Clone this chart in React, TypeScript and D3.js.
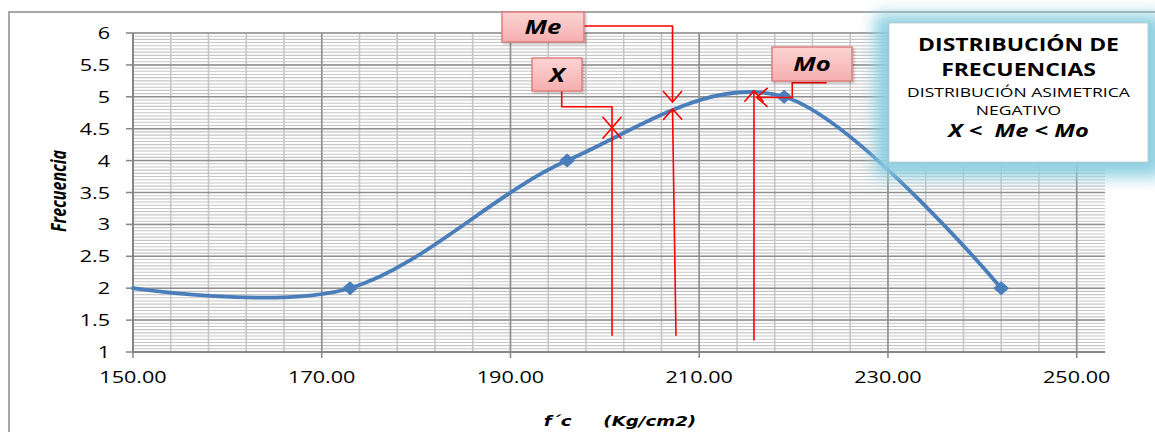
import React from "react";
import * as d3 from "d3";

// ---- data ----
const fcValues = [150, 173, 196, 219, 242];
const frequencies = [2, 2, 4, 5, 2];
const xTicks = [150, 170, 190, 210, 230, 250];
const yTicks = [1, 1.5, 2, 2.5, 3, 3.5, 4, 4.5, 5, 5.5, 6];
const legendLines = [
  "DISTRIBUCIÓN DE",
  "FRECUENCIAS",
  "DISTRIBUCIÓN ASIMETRICA",
  "NEGATIVO",
  "X <  Me < Mo",
];
const statLabels = ["X", "Me", "Mo"];
const statValues = [200.76, 207.17, 215.8];
// label boxes in data units: [x0, x1, yTop, yBottom]
const statBoxes = [
  [192.28, 197.58, 5.608, 5.091],
  [189.1, 197.79, 6.329, 5.859],
  [217.71, 226.19, 5.78, 5.248],
];
// connector from box to curve (data units, polyline ending at arrow tip)
const statTopPaths: number[][][] = [
  [[195.43, 5.237], [195.43, 4.845], [statValues[0], 4.845], [statValues[0], 4.516]],
  [[197.79, 6.11], [statValues[1], 6.11], [statValues[1], 4.92]],
  [[223.51, 5.221], [219.86, 5.221], [219.86, 4.99], [216.09, 4.99]],
];
// vertical line from below to curve
const statBottomPaths: number[][][] = [
  [[statValues[0], 1.255], [statValues[0], 4.516]],
  [[207.54, 1.255], [statValues[1], 4.81]],
  [[statValues[2], 1.18], [statValues[2], 5.096]],
];

// ---- layout ----
const W = 1155;
const H = 432;
const SX = 1.35;
const FONT = "'Open Sans', 'DejaVu Sans', sans-serif";

const x = d3.scaleLinear().domain([150, 253.0]).range([133, 1105]);
const y = d3.scaleLinear().domain([1, 6]).range([352, 33]);

function T(props: {
  x: number;
  y: number;
  size: number;
  anchor?: string;
  weight?: string;
  italic?: boolean;
  fill?: string;
  rotate?: number;
  font?: string;
  children: React.ReactNode;
}) {
  const rot = props.rotate ? ` rotate(${props.rotate})` : "";
  return (
    <text
      transform={`translate(${props.x},${props.y}) scale(${SX},1)${rot}`}
      fontSize={props.size}
      fontFamily={props.font || FONT}
      fontWeight={props.weight || "normal"}
      fontStyle={props.italic ? "italic" : "normal"}
      textAnchor={props.anchor || "middle"}
      fill={props.fill || "#000"}
      style={{ whiteSpace: "pre" }}
    >
      {props.children}
    </text>
  );
}

function arrowHead(px: number[][], key: string) {
  const n = px.length;
  const [tx, ty] = px[n - 1];
  const [fx, fy] = px[n - 2];
  const dx = tx - fx;
  const dy = ty - fy;
  const len = Math.hypot(dx, dy) || 1;
  const ux = dx / len;
  const uy = dy / len;
  const L = 11;
  const Wd = 9.5;
  const bx = tx - ux * L;
  const by = ty - uy * L;
  const d = `M${bx - uy * Wd},${by + ux * Wd}L${tx},${ty}L${bx + uy * Wd},${by - ux * Wd}`;
  return <path key={key} d={d} fill="none" stroke="#ff0000" strokeWidth={1.6} />;
}

export default function App() {
  const pts = fcValues.map((v, i) => [v, frequencies[i]] as [number, number]);
  const line = d3
    .line<[number, number]>()
    .x((d) => x(d[0]))
    .y((d) => y(d[1]))
    .curve(d3.curveCardinal.tension(0));

  const minorY = d3.range(0, 101).map((i) => 1 + i * 0.05);
  const minorX = d3.range(0, 26).map((i) => 150 + i * 4);

  const [x0, x1] = x.range();
  const [yb, yt] = y.range();

  const lg = { x0: 889, x1: 1148, y0: 23, y1: 162 };
  const lgc = (lg.x0 + lg.x1) / 2;

  return (
    <svg
      width={W}
      height={H}
      style={{ position: "absolute", left: 0, top: 0, background: "#fff" }}
    >
      <defs>
        <filter id="glow" x="-30%" y="-40%" width="160%" height="180%">
          <feGaussianBlur stdDeviation="8" />
        </filter>
        <linearGradient id="pink" x1="0" y1="0" x2="0" y2="1">
          <stop offset="0" stopColor="#fbd3d3" />
          <stop offset="0.5" stopColor="#f9c2c2" />
          <stop offset="1" stopColor="#f5aeae" />
        </linearGradient>
        <filter id="shadow" x="-20%" y="-20%" width="150%" height="160%">
          <feDropShadow dx="1.5" dy="1.5" stdDeviation="1.2" floodColor="#000" floodOpacity="0.25" />
        </filter>
      </defs>

      {/* chart border */}
      <rect x={9} y={12} width={1200} height={500} fill="none" stroke="#8c8c8c" strokeWidth={1.5} />

      {/* minor grid */}
      {minorY.map((v, i) => (
        <line key={"my" + i} x1={x0} x2={x1} y1={y(v)} y2={y(v)} stroke="#c6c6c6" strokeWidth={1.1} />
      ))}
      {minorX.map((v, i) => (
        <line key={"mx" + i} x1={x(v)} x2={x(v)} y1={yb} y2={yt} stroke="#c6c6c6" strokeWidth={1.6} />
      ))}
      {/* major grid */}
      {yTicks.map((v, i) => (
        <line key={"gy" + i} x1={x0} x2={x1} y1={y(v)} y2={y(v)} stroke="#8e8e8e" strokeWidth={1.5} />
      ))}
      {xTicks.map((v, i) => (
        <line key={"gx" + i} x1={x(v)} x2={x(v)} y1={yb} y2={yt} stroke="#8e8e8e" strokeWidth={1.5} />
      ))}

      {/* axes */}
      <line x1={x0} x2={x0} y1={yb} y2={yt} stroke="#868686" strokeWidth={2} />
      <line x1={x0} x2={x1} y1={yb} y2={yb} stroke="#868686" strokeWidth={2} />
      {yTicks.map((v, i) => (
        <line key={"ty" + i} x1={126} x2={x0} y1={y(v)} y2={y(v)} stroke="#868686" strokeWidth={1.5} />
      ))}
      {xTicks.map((v, i) => (
        <line key={"tx" + i} x1={x(v)} x2={x(v)} y1={yb} y2={yb + 6} stroke="#868686" strokeWidth={1.5} />
      ))}

      {/* tick labels */}
      {yTicks.map((v, i) => (
        <T key={"ly" + i} x={110} y={y(v) + 6} size={16} anchor="end">
          {String(v)}
        </T>
      ))}
      {xTicks.map((v, i) => (
        <T key={"lx" + i} x={x(v)} y={383} size={16}>
          {v.toFixed(2)}
        </T>
      ))}

      {/* axis titles */}
      <T x={66} y={191} size={16} weight="bold" italic rotate={-90}>
        Frecuencia
      </T>
      <T x={620} y={426} size={13.5} weight="bold" italic font="'DejaVu Sans', sans-serif">
        {"f´c     (Kg/cm2)"}
      </T>

      {/* series */}
      <path d={line(pts) || ""} fill="none" stroke="#4a7ebb" strokeWidth={3.8} strokeLinecap="round" />
      {pts
        .filter((p) => p[0] > x.domain()[0])
        .map((p, i) => {
          const cx = x(p[0]);
          const cy = y(p[1]);
          return (
            <path
              key={"m" + i}
              d={`M${cx},${cy - 7}L${cx + 8},${cy}L${cx},${cy + 7}L${cx - 8},${cy}Z`}
              fill="#4a7ebb"
            />
          );
        })}

      {/* annotations */}
      {statLabels.map((lab, i) => {
        const top = statTopPaths[i].map((p) => [x(p[0]), y(p[1])]);
        const bot = statBottomPaths[i].map((p) => [x(p[0]), y(p[1])]);
        const b = statBoxes[i];
        const bx0 = x(b[0]);
        const bx1 = x(b[1]);
        const by0 = y(b[2]);
        const by1 = y(b[3]);
        return (
          <g key={"a" + i}>
            <path d={"M" + top.map((p) => p.join(",")).join("L")} fill="none" stroke="#ff0000" strokeWidth={1.6} />
            {arrowHead(top, "ht" + i)}
            <path d={"M" + bot.map((p) => p.join(",")).join("L")} fill="none" stroke="#ff0000" strokeWidth={1.6} />
            {arrowHead(bot, "hb" + i)}
            <rect
              x={bx0}
              y={by0}
              width={bx1 - bx0}
              height={by1 - by0}
              fill="url(#pink)"
              stroke="#e07a7a"
              strokeWidth={1.4}
              filter="url(#shadow)"
            />
            <T x={(bx0 + bx1) / 2} y={(by0 + by1) / 2 + 7} size={19} weight="bold" italic>
              {lab}
            </T>
          </g>
        );
      })}

      {/* legend text box with glow */}
      <rect
        x={lg.x0 - 14}
        y={lg.y0 - 9}
        width={lg.x1 - lg.x0 + 30}
        height={lg.y1 - lg.y0 + 24}
        fill="#8fd0e2"
        filter="url(#glow)"
      />
      <rect
        x={lg.x0}
        y={lg.y0}
        width={lg.x1 - lg.x0}
        height={lg.y1 - lg.y0}
        fill="#fff"
        stroke="#b8c8cc"
        strokeWidth={0.8}
      />
      <T x={lgc} y={50.5} size={17} weight="bold">
        {legendLines[0]}
      </T>
      <T x={lgc} y={76} size={17} weight="bold">
        {legendLines[1]}
      </T>
      <T x={lgc} y={96.5} size={13}>
        {legendLines[2]}
      </T>
      <T x={lgc} y={115} size={13}>
        {legendLines[3]}
      </T>
      <T x={lgc} y={136.5} size={17.5} weight="bold" italic>
        {legendLines[4]}
      </T>
    </svg>
  );
}
